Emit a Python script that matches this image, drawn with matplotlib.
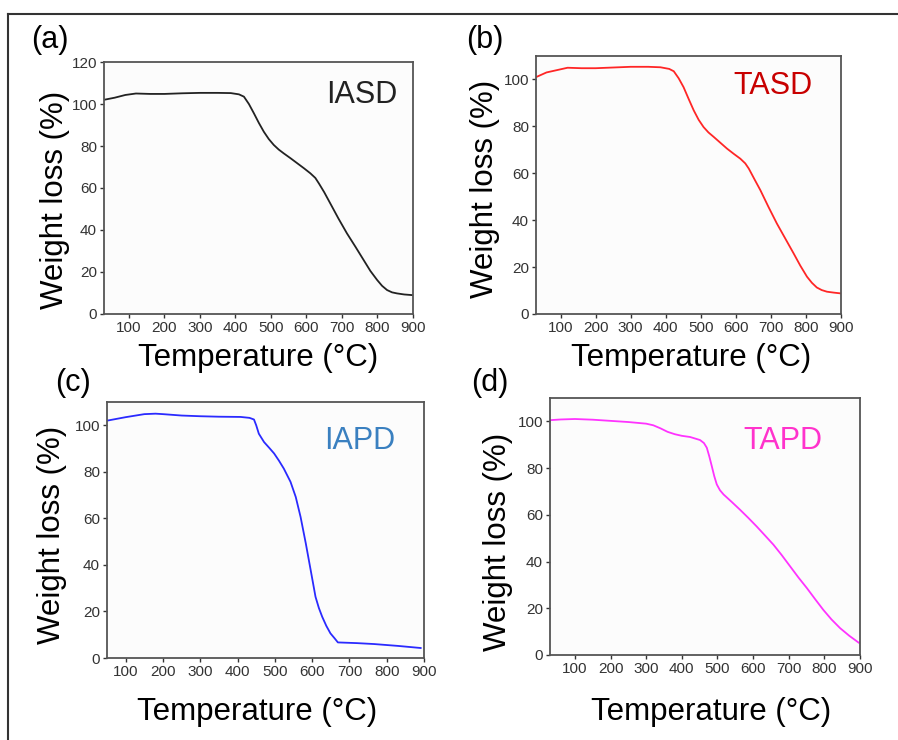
import matplotlib
matplotlib.use("Agg")
import matplotlib.pyplot as plt
from matplotlib.lines import Line2D

plt.rcParams['font.family'] = ['Liberation Sans', 'DejaVu Sans']

#
# data (temperature in degC, weight in %)
iasd_t = [30, 60, 90, 120, 160, 200, 250, 300, 350, 387, 410, 424, 438, 452, 466, 480, 494, 508, 522, 536, 555, 574, 593, 611, 625, 635, 650, 667, 690, 714, 738, 761, 780, 799, 813, 827, 841, 855, 875, 897]
iasd_w = [102, 103, 104.3, 105, 104.8, 104.8, 105.1, 105.3, 105.3, 105.2, 104.6, 103.5, 100, 95.6, 91, 86.8, 83.3, 80.5, 78.3, 76.5, 74.2, 71.8, 69.4, 67, 64.8, 62.2, 58, 52.7, 45.5, 38.4, 32, 25.7, 20.5, 16.2, 13.4, 11.4, 10.3, 9.8, 9.3, 9]

tasd_t = [30, 60, 90, 120, 160, 200, 250, 300, 350, 385, 410, 423, 437, 451, 466, 480, 494, 508, 522, 537, 556, 575, 594, 613, 627, 637, 653, 670, 693, 717, 741, 765, 784, 803, 817, 831, 845, 860, 880, 898]
tasd_w = [101, 103, 104, 105, 104.8, 104.8, 105.1, 105.4, 105.4, 105.2, 104.5, 103.5, 100.5, 96.7, 91.5, 86.8, 82.8, 79.7, 77.4, 75.5, 73, 70.5, 68.3, 66.2, 64.2, 62, 57.5, 52.8, 45.7, 38.6, 32.2, 25.8, 20.6, 15.9, 13.3, 11.3, 10.2, 9.5, 9.1, 8.8]

iapd_t = [50, 100, 150, 180, 200, 250, 300, 350, 408, 432, 444, 450, 457, 471, 485, 498, 511, 524, 542, 556, 569, 583, 596, 609, 618, 627, 638, 649, 660, 669, 720, 766, 830, 891]
iapd_w = [102, 103.5, 104.8, 105, 104.8, 104.2, 103.9, 103.7, 103.6, 103.2, 102.5, 100, 96.4, 92.8, 90.3, 87.9, 84.8, 81.4, 75.7, 69.2, 60.6, 49.2, 37.8, 26.3, 21.5, 17.7, 13.8, 10.6, 8.5, 6.7, 6.4, 6, 5.2, 4.3]

tapd_t = [30, 60, 100, 150, 200, 250, 300, 320, 340, 360, 380, 400, 423, 451, 462, 470, 477, 484, 491, 498, 507, 517, 540, 563, 587, 610, 633, 657, 680, 704, 727, 751, 774, 797, 820, 844, 870, 896]
tapd_w = [100.5, 100.8, 101, 100.7, 100.2, 99.7, 99, 98.3, 97, 95.5, 94.5, 93.8, 93.3, 92, 90.7, 88.7, 85, 80.8, 76.5, 73, 70.5, 68.7, 65.5, 62.2, 58.6, 55, 51.2, 47.2, 42.8, 37.9, 33.2, 28.6, 23.9, 19.3, 15.2, 11.5, 8.2, 5.3]

panels = [
	# letter, curve, colour, name, name colour, axes box, xlim, ylim top
	("(a)", iasd_t, iasd_w, "#222222", "IASD", "#222222", [0.1158, 0.5757, 0.3441, 0.3405], (30, 900), 120),
	("(b)", tasd_t, tasd_w, "#ff2626", "TASD", "#c80000", [0.5969, 0.5757, 0.3396, 0.3486], (30, 900), 110),
	("(c)", iapd_t, iapd_w, "#2a2aff", "IAPD", "#3a80c0", [0.1192, 0.1108, 0.3530, 0.3459], (50, 900), 110),
	("(d)", tapd_t, tapd_w, "#ff33ff", "TAPD", "#ff33cc", [0.6125, 0.1149, 0.3452, 0.3473], (30, 900), 110),
]

# pixel positions for the free texts (x, y from top-left)
letterPos	= [(50, 40), (485, 40), (73, 383), (490, 383)]
namePos		= [(362, 95), (773, 86), (360, 441), (783, 441)]
ylabPos		= [(55, 200), (485, 189), (52, 535), (498, 542)]
xlabPos		= [(258, 358), (691, 358), (257, 712), (711, 712)]

W, H = 898, 740
fig = plt.figure(figsize=(W / 100, H / 100), dpi=100)

def px(x, y):
	return (x / W, 1 - y / H)

for i, (letter, t, w, col, name, ncol, box, xl, ytop) in enumerate(panels):
	ax = fig.add_axes(box)
	ax.set_facecolor("#fcfcfc")
	ax.plot(t, w, color=col, lw=1.3)
	ax.set_xlim(*xl)
	ax.set_ylim(0, ytop)
	ax.set_xticks(range(100, 1000, 100))
	ax.set_yticks(range(0, 121 if ytop == 120 else 101, 20))
	ax.tick_params(labelsize=11, length=3, width=1, colors="#333333", pad=2)
	for sp in ax.spines.values():
		sp.set_color("#555555")
		sp.set_linewidth(1.3)

	fig.text(*px(*letterPos[i]), letter, fontsize=22, ha="center", va="center")
	fig.text(*px(*namePos[i]), name, fontsize=22, color=ncol, ha="center", va="center")
	fig.text(*px(*ylabPos[i]), "Weight loss (%)", fontsize=22.5, rotation=90, ha="center", va="center")
	fig.text(*px(*xlabPos[i]), "Temperature (°C)", fontsize=22.5, ha="center", va="center")

#
# outer frame (top and left only, the rest is cropped)
fig.add_artist(Line2D([8 / W, 8 / W], [0, 1 - 14 / H], color="#333333", lw=1.5))
fig.add_artist(Line2D([8 / W, 1], [1 - 14 / H, 1 - 14 / H], color="#333333", lw=1.5))

fig.savefig("out.png", dpi=100)
